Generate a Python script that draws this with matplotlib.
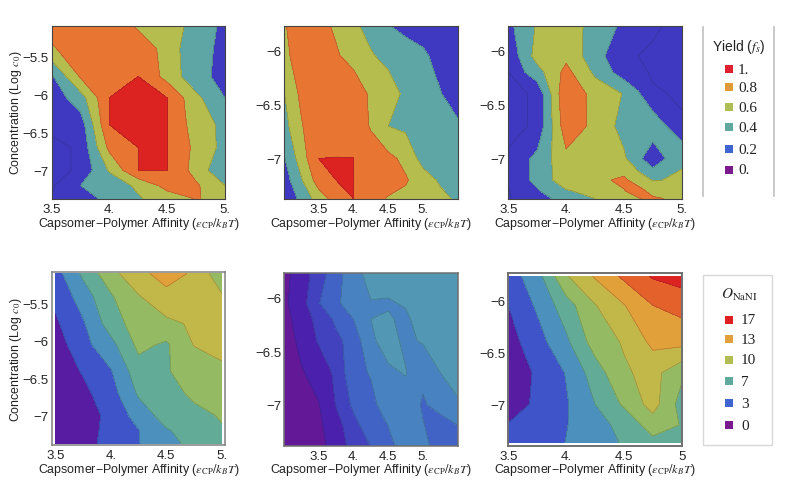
import numpy as np
import matplotlib
matplotlib.use('Agg')
import matplotlib.pyplot as plt
from matplotlib.colors import LinearSegmentedColormap
from matplotlib.patches import Rectangle

plt.rcParams['font.family'] = ['Liberation Sans', 'DejaVu Sans']
plt.rcParams['mathtext.fontset'] = 'stix'

# axis grids
x_short = [3.5, 3.75, 4, 4.25, 4.5, 4.75, 5]
x_panel3 = [3.5, 3.75, 4, 4.25, 4.5, 4.625, 4.75, 5]
x_wide = [3, 3.25, 3.5, 3.75, 4, 4.25, 4.5, 4.75, 5, 5.25, 5.5]
y_tall = [-7.37, -7.2, -7, -6.7, -6.4, -6.05, -5.77, -5.4, -5.1]
y_mid = [-7.37, -7.2, -7, -6.7, -6.4, -6.05, -5.77]
y_panel3 = [-7.37, -7.3, -7.2, -7, -6.7, -6.4, -6.2, -6.05, -5.77]
y_panel5 = [-7.38, -7.2, -7, -6.7, -6.4, -6.2, -6.05, -5.77]

# yield, bottom row of the grid first
yield_a = [
    [.05, .09, .27, .38, .5, .61, .55],
    [.02, .2, .28, .44, .67, .63, .4],
    [.02, .05, .42, .801, .801, .52, .23],
    [.02, .05, .65, .801, .801, .55, .335],
    [.06, .1, .801, .95, .801, .5, .35],
    [.08, .31, .801, .95, .801, .45, .2],
    [.17, .62, .75, .801, .53, .265, .14],
    [.57, .75, .75, .72, .53, .23, .18],
    [.7, .72, .72, .57, .5, .33, .15],
]
yield_b = [
    [.05, .25, .5, .68, .801, .7, .58, .55, .5, .45, .37],
    [.1, .38, .7, .8, .801, .76, .72, .62, .5, .37, .3],
    [.18, .5, .8, .801, .801, .72, .65, .55, .32, .28, .25],
    [.33, .58, .8, .78, .75, .58, .4, .36, .32, .28, .24],
    [.39, .65, .8, .78, .78, .55, .5, .355, .3, .21, .08],
    [.52, .75, .75, .63, .5, .42, .34, .3, .24, .12, .05],
    [.58, .72, .68, .56, .44, .33, .21, .14, .1, .08, .05],
]
yield_c = [
    [.03, .12, .28, .4, .55, .59, .63, .55],
    [.035, .18, .38, .47, .59, .68, .52, .5],
    [.04, .26, .52, .55, .64, .5, .39, .42],
    [.05, .25, .55, .55, .43, .25, .06, .38],
    [.02, .05, .72, .55, .33, .31, .33, .05],
    [.02, .05, .78, .52, .39, .22, .05, .03],
    [.04, .32, .66, .36, .1, .06, .03, .02],
    [.05, .48, .55, .28, .05, .04, .03, .02],
    [.15, .42, .5, .33, .16, .1, .05, .02],
]

# order parameter
order_a = [
    [.5, 1.1, 2.9, 3.95, 5, 6.9, 7.6],
    [.5, 1.1, 2.7, 3.95, 5.8, 6.9, 7.8],
    [.5, 1, 2.6, 4.8, 6.9, 7.3, 8.2],
    [.6, 1.5, 3.2, 6.3, 7, 8.5, 9],
    [.8, 2.2, 3.9, 7.2, 7.9, 8.6, 9.4],
    [1, 3.4, 5.4, 8.5, 7.7, 10.1, 11],
    [1.7, 3.8, 7, 9, 9.5, 10.3, 11.2],
    [2.5, 5, 7.8, 9.9, 11.6, 11.2, 10.2],
    [3.2, 6.45, 9.3, 11.6, 12.6, 11.8, 8.5],
]
order_b = [
    [.1, .2, .7, 1.4, 2.4, 3.02, 3.75, 4.4, 4.3, 3.5, 3.3],
    [.1, .2, .8, 1.6, 2.6, 3.6, 4, 4.4, 4.05, 3.6, 3.95],
    [.2, .4, .95, 2.05, 3.2, 3.8, 4.35, 4.6, 3.9, 4.3, 4.9],
    [.3, .9, 1.4, 2.2, 3.8, 4.05, 4.85, 5.05, 4.2, 5, 5.3],
    [.4, 1.3, 2.1, 2.75, 3.4, 4.85, 5.35, 4.8, 5.1, 5.4, 5.6],
    [.6, 1.5, 2.3, 3.2, 4, 5, 5.1, 4.8, 5.5, 5.6, 5.7],
    [.8, 1.6, 2.95, 3.8, 4.6, 4.95, 4.9, 5.1, 5.6, 5.7, 5.8],
    [.7, 1.5, 2.5, 3.6, 4.6, 5.4, 5.5, 5.6, 5.7, 5.8, 5.9],
]
order_c = [
    [2.2, 2.9, 4.05, 5, 6.2, 7.4, 7.6],
    [2.1, 2.9, 3.9, 5.4, 6.5, 9, 7.9],
    [.9, 2.4, 3.8, 6, 8.3, 10.8, 7.2],
    [.6, 2.3, 4.1, 7, 9.7, 10.7, 8.4],
    [1.2, 3.2, 5.6, 8.9, 10.2, 12.5, 12.7],
    [2, 4.3, 7.1, 9.9, 11.9, 14, 14.7],
    [3, 5.2, 9.8, 12.2, 14.4, 16.2, 16.9],
]

yield_levels = [0, .2, .4, .6, .8, 1]
yield_colors = ['#3f39c2', '#5ea6a6', '#b4bd4e', '#e87632', '#dd2222']
yield_key = ['1.', '0.8', '0.6', '0.4', '0.2', '0.']
yield_key_colors = ['#e02030', '#e09a3a', '#b0bd55', '#5fa99e', '#3f63d0', '#7a1a8c']

order_key = ['17', '13', '10', '7', '3', '0']
order_key_colors = ['#e02020', '#e2a03a', '#b0bd55', '#5fa99e', '#3f63d0', '#7a1a8c']

# colour scale shared by the lower panels
order_cmap = LinearSegmentedColormap.from_list('order', [
    (0 / 18, '#70148c'), (1.5 / 18, '#4a20ac'), (3 / 18, '#3e55c9'),
    (5 / 18, '#4c90be'), (7 / 18, '#62ab97'), (9 / 18, '#93bb63'),
    (11 / 18, '#c2b84a'), (13 / 18, '#e2a03a'), (15 / 18, '#e5622c'),
    (17 / 18, '#dd2222'), (18 / 18, '#dd2222')])

W, H = 789, 489
XLABEL = 'Capsomer\u2212Polymer Affinity ($\\varepsilon_{\\rm CP}/k_B T$)'


def add_axes_px(x0, x1, y0, y1):
    """axes from pixel edges, y counted from the top"""
    return fig.add_axes([x0 / W, 1 - y1 / H, (x1 - x0) / W, (y1 - y0) / H])


def band_colors(levels):
    return [order_cmap((a + b) / 2 / 18) for a, b in zip(levels[:-1], levels[1:])]


def panel(box, x, y, z, levels, colors, xticks, xlabels, yticks, ylabels, xlim, ylim,
          line_levels=None, edge='#444444', edge_w=0.8, ylabel=None, label_y=224):
    ax = add_axes_px(*box)
    ax.contourf(x, y, z, levels=levels, colors=colors)
    ax.contour(x, y, z, levels=line_levels or levels[1:-1], colors='#222222',
               linewidths=0.4, alpha=0.35)
    ax.set_xlim(xlim)
    ax.set_ylim(ylim)
    ax.set_xticks(xticks)
    ax.set_xticklabels(xlabels)
    ax.set_yticks(yticks)
    ax.set_yticklabels(ylabels)
    ax.tick_params(length=0, labelsize=9.5, colors='#222222')
    ax.tick_params(axis='x', pad=3)
    ax.tick_params(axis='y', pad=2)
    for s in ax.spines.values():
        s.set_color(edge)
        s.set_linewidth(edge_w)
    fig.text((box[0] + box[1]) / 2 / W, 1 - label_y / H, XLABEL, ha='center', va='center',
             fontsize=8.9, color='#222222')
    if ylabel:
        fig.text(16 / W, 1 - (box[2] + box[3]) / 2 / H, ylabel, rotation=90, ha='center',
                 va='center', fontsize=8.9, color='#222222')
    return ax


def key(ax, rows_y, labels, colors, text_x):
    for yy, lab, col in zip(rows_y, labels, colors):
        ax.add_patch(Rectangle((725, yy - 4), 8, 8, color=col, lw=0))
        ax.text(text_x, yy, lab, family='Liberation Serif', fontsize=11, va='center', color='#222222')


fig = plt.figure(figsize=(W / 100, H / 100), dpi=100)

xt = [3.5, 4, 4.5, 5]
xt_lab = ['3.5', '4.', '4.5', '5.']
yt_long = [-5.5, -6, -6.5, -7]
yt_long_lab = ['\u22125.5', '\u22126', '\u22126.5', '\u22127']
yt_short = [-6, -6.5, -7]
yt_short_lab = ['\u22126', '\u22126.5', '\u22127']
ylab = 'Concentration (Log $c_0$)'

panel((51.7, 225, 26.7, 199.5), x_short, y_tall, yield_a, yield_levels, yield_colors,
      xt, xt_lab, yt_long, yt_long_lab, (3.5, 5), (-7.37, -5.1),
      line_levels=[.04, .2, .4, .6, .8], ylabel=ylab)
panel((284, 457.7, 26.7, 199.5), x_wide, y_mid, yield_b, yield_levels, yield_colors,
      xt, xt_lab, yt_short, yt_short_lab, (3, 5.5), (-7.37, -5.77))
panel((508.3, 681.7, 26.7, 199.5), x_panel3, y_panel3, yield_c, yield_levels, yield_colors,
      xt, xt_lab, yt_short, yt_short_lab, (3.5, 5), (-7.37, -5.77),
      line_levels=[.04, .2, .4, .6, .8])

lev_a = list(range(0, 16, 2))
panel((51.7, 225, 272.7, 446), x_short, y_tall, order_a, lev_a, band_colors(lev_a),
      xt, xt_lab, yt_long, yt_long_lab, (3.464, 5.03), (-7.393, -5.077),
      edge='#808080', edge_w=1.1, ylabel=ylab, label_y=470.5)
lev_b = [0, 1, 2, 3, 4, 5, 6]
panel((284, 457.7, 274, 446.7), x_wide, y_panel5, order_b, lev_b, band_colors(lev_b),
      xt, xt_lab, yt_short, yt_short_lab, (3, 5.5), (-7.38, -5.77),
      edge='#707070', edge_w=1.1, label_y=470.5)
lev_c = list(range(0, 20, 2))
panel((508.3, 681.7, 274, 446.7), x_short, y_mid, order_c, lev_c, band_colors(lev_c),
      xt, ['3.5', '4.', '4.5', '5'], yt_short, yt_short_lab, (3.5, 5), (-7.40, -5.74),
      edge='#707070', edge_w=1.4, label_y=470.5)

# overlay in pixel coordinates for the two keys
over = fig.add_axes([0, 0, 1, 1], facecolor='none')
over.set_xlim(0, W)
over.set_ylim(H, 0)
over.axis('off')

over.plot([703, 703], [28, 197], color='#c0c0c0', lw=1.2)
over.plot([774, 774], [28, 197], color='#c0c0c0', lw=1.2)
over.text(739, 47, 'Yield ($f_s$)', ha='center', va='center', fontsize=10, color='#222222')
key(over, [70, 88, 108, 128, 150, 171], yield_key, yield_key_colors, 738)

over.add_patch(Rectangle((703, 276), 69, 170, fc='white', ec='#d8d8d8', lw=1))
over.text(739, 295, '$O_{\\rm NaNI}$', ha='center', va='center', fontsize=11, color='#222222')
key(over, [321, 340, 361, 382, 404, 426], order_key, order_key_colors, 741)

plt.savefig('out.png', dpi=100)
plt.close()
